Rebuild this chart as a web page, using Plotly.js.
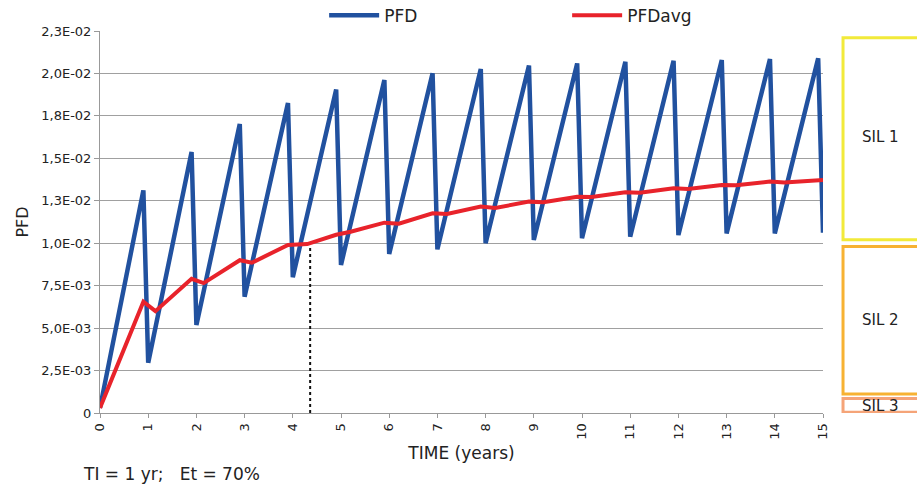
<!DOCTYPE html>
<html>
<head>
<meta charset="utf-8">
<script src="https://cdn.plot.ly/plotly-3.0.1.min.js"></script>
<style>html,body{margin:0;padding:0;background:#fff;}#chart{width:917px;height:484px;}</style>
</head>
<body>
<div id="chart"></div>
<script>
// ---- data ----
const pfdTime = [0, 0.9, 1, 1.9, 2, 2.9, 3, 3.9, 4, 4.9, 5, 5.9, 6, 6.9, 7, 7.9, 8, 8.9, 9, 9.9, 10, 10.9, 11, 11.9, 12, 12.9, 13, 13.9, 14, 14.9, 15];
const pfdValues = [0.0003, 0.01311, 0.00296, 0.01537, 0.00518, 0.01702, 0.00685, 0.01826, 0.00800, 0.01905, 0.00872,
  0.01961, 0.00937, 0.02001, 0.00964, 0.02026, 0.01000, 0.02047, 0.01019, 0.02059, 0.01029, 0.02069, 0.01038,
  0.02075, 0.01048, 0.02079, 0.01058, 0.02085, 0.01058, 0.02089, 0.01062];
const avgTime = [0, 0.9, 1.15, 1.9, 2.15, 2.9, 3.15, 3.9, 4.3, 4.9, 5.2, 5.9, 6.2, 6.9, 7.2, 7.9, 8.2, 8.9, 9.2, 9.9, 10.2, 10.9, 11.2, 11.9, 12.2, 12.9, 13.2, 13.9, 14.2, 15];
const avgValues = [0.0003, 0.00656, 0.00600, 0.00790, 0.00765, 0.00900, 0.00885, 0.00990, 0.00995, 0.01050, 0.01068,
  0.01121, 0.01115, 0.01176, 0.01172, 0.01216, 0.01208, 0.01245, 0.01241, 0.01274, 0.01272, 0.01300, 0.01298,
  0.01324, 0.01320, 0.01343, 0.01342, 0.01363, 0.01358, 0.01373];
const markerTime = [4.36, 4.36];
const markerValues = [0, 0.0099];
const yTickVals = [0, 0.0025, 0.005, 0.0075, 0.01, 0.0125, 0.015, 0.0175, 0.02, 0.0225];
const yTickText = ["0", "2,5E-03", "5,0E-03", "7,5E-03", "1,0E-02", "1,3E-02", "1,5E-02", "1,8E-02", "2,0E-02", "2,3E-02"];
const xTickVals = [0,1,2,3,4,5,6,7,8,9,10,11,12,13,14,15];
const silNames = ["SIL 1", "SIL 2", "SIL 3"];
const silLow = [0.0102, 0.00112, 0.00005];
const silHigh = [0.0221, 0.0098, 0.00085];
const silColors = ["#f2ea3a", "#f7b232", "#f5a478"];
const seriesNames = ["PFD", "PFDavg"];
const noteText = "TI = 1 yr;   Et = 70%";

const FONT = "DejaVu Sans, Verdana, sans-serif";

const traces = [
  {x: pfdTime, y: pfdValues, name: seriesNames[0], mode: "lines", type: "scatter",
   line: {color: "#21519f", width: 4.5}},
  {x: avgTime, y: avgValues, name: seriesNames[1], mode: "lines", type: "scatter",
   line: {color: "#e8232b", width: 4}},
  {x: markerTime, y: markerValues, mode: "lines", type: "scatter", showlegend: false,
   line: {color: "#111", width: 2, dash: "dot"}}
];

const shapes = silNames.map((n, i) => ({
  type: "rect", xref: "paper", yref: "y", x0: 1.0277, x1: 1.2, y0: silLow[i], y1: silHigh[i],
  line: {color: silColors[i], width: 3}, fillcolor: "rgba(255,255,255,0)", layer: "above"
}));

const silTextY = [0.01626, 0.00548, 0.0004];
const annotations = silNames.map((n, i) => ({
  text: n, xref: "paper", yref: "y", x: 1.079, y: silTextY[i], xanchor: "center", yanchor: "middle",
  showarrow: false, font: {family: FONT, size: 15, color: "#222"}
}));
annotations.push({text: noteText, xref: "paper", yref: "paper", x: -0.026, y: -0.16,
  xanchor: "left", yanchor: "middle", showarrow: false, font: {family: FONT, size: 17, color: "#222"}});

const layout = {
  width: 917, height: 484,
  margin: {l: 100, r: 94, t: 31, b: 71, autoexpand: false},
  paper_bgcolor: "#ffffff", plot_bgcolor: "#ffffff",
  showlegend: true,
  legend: {orientation: "h", x: 0.31, xanchor: "left", y: 1.04, yanchor: "middle",
           font: {family: FONT, size: 17, color: "#222"}, itemwidth: 50,
           entrywidth: 178, entrywidthmode: "pixels", bgcolor: "rgba(0,0,0,0)"},
  xaxis: {range: [0, 15], tickvals: xTickVals, ticktext: xTickVals.map(String), tickangle: -90,
          showgrid: false, zeroline: false, showline: true, linecolor: "#999", linewidth: 1,
          ticks: "outside", ticklen: 4, tickcolor: "#999",
          tickfont: {family: FONT, size: 13, color: "#222"},
          title: {text: "TIME (years)", font: {family: FONT, size: 17, color: "#222"}, standoff: 8}},
  yaxis: {range: [0, 0.0225], tickvals: yTickVals, ticktext: yTickText,
          showgrid: true, gridcolor: "#a0a0a0", gridwidth: 1, zeroline: false,
          showline: true, linecolor: "#999", linewidth: 1,
          ticks: "outside", ticklen: 5, tickcolor: "#999",
          tickfont: {family: FONT, size: 13, color: "#222"},
          title: {text: "PFD", font: {family: FONT, size: 16, color: "#222"}, standoff: 8}},
  shapes: shapes,
  annotations: annotations,
  hovermode: false
};

Plotly.newPlot("chart", traces, layout, {staticPlot: true, displayModeBar: false});
</script>
</body>
</html>
